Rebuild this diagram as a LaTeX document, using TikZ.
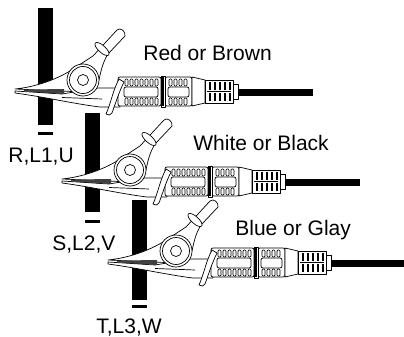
\documentclass[tikz,border=0pt]{standalone}
\usepackage{fontspec}
\setmainfont{Liberation Sans}
\begin{document}
\begin{tikzpicture}[x=1pt,y=-1pt,line width=0.7pt,line join=round,
    lbl/.style={font=\fontsize{21}{25}\selectfont,inner sep=0pt,anchor=base west}]
            \useasboundingbox (0,0) rectangle (404,337);
            \fill (38,8) rectangle (53,125);
            \fill (38,132) rectangle (53,135);
            \fill (85,113) rectangle (100,212);
            \fill (85,220) rectangle (100,223);
            \fill (132,200) rectangle (147,300);
            \fill (132,305) rectangle (147,308);
            \foreach \dx/\dy in {0/0,47/90,93/171} {
            \begin{scope}[shift={(\dx,\dy)}]
            \draw [fill = white] (15,91) -- (62,94) -- (98,88) -- (120,88) -- (120,107) -- (100,107) .. controls (75,104) and (45,97) .. (15,93) -- cycle;
            \draw (62,97.5) -- (102,99);
            \draw [fill = white] (15,89) .. controls (35,87) and (55,80) .. (70,71) -- (93,56) -- (117,30) .. controls (120,27) and (126,31) .. (125,36) -- (108,54) .. controls (103,62) and (101,70) .. (99,80) -- (85,92) -- (60,91) -- cycle;
            \fill [black!75] (24,89.6) -- (64,89) -- (64,94) -- (24,91.4) -- cycle;
            \draw [fill = white] (83,80) circle (16);
            \draw (83,80) circle (13.5);
            \draw (83,80) circle (5.5);
            \draw [fill = white, rotate around={-42:(102,49)}] (102,49) ellipse (9 and 3.5);
            \draw [fill = white, rounded corners=2] (118,77) rectangle (161,106);
            \draw [fill = white, rounded corners=2] (165,77) rectangle (192,106);
            \draw [fill = white] (161,76) rectangle (165,107);
            \draw [line width=1.5pt] (163,77) -- (163,106);
            \draw [rounded corners=2] (124,87) rectangle (158,97);
            \draw [rounded corners=2] (168,87) rectangle (189,97);
            \foreach \x in {125,130,...,155} {
                \draw [rounded corners=1] (\x,79) rectangle (\x+3,86);
                \draw [rounded corners=1] (\x,98) rectangle (\x+3,105);
            }
            \foreach \x in {169,174,...,186} {
                \draw [rounded corners=1] (\x,79) rectangle (\x+3,86);
                \draw [rounded corners=1] (\x,98) rectangle (\x+3,105);
            }
            \draw [fill = white] (192,77) -- (205,80) -- (205,103) -- (192,106) -- cycle;
            \draw [fill = white] (205,80) rectangle (233,103);
            \foreach \x in {209,214,...,229} {
                \fill (\x,82) rectangle (\x+2,90);
                \fill (\x,93) rectangle (\x+2,101);
            }
            \draw (207,91.5) -- (231,91.5);
            \draw [fill = white] (233,84) rectangle (238,99);
            \fill (238,88.5) rectangle (313,95.5);
            \draw [fill = white] (119,79) .. controls (113,90) and (111,103) .. (106,114) .. controls (108,116) and (111,115) .. (112,113) .. controls (116,102) and (119,92) .. (124,82) -- cycle;
            \end{scope}
            }
            \node [lbl] (red) at (143,60) {Red or Brown};
            \node [lbl] (white) at (193,150) {White or Black};
            \node [lbl] (blue) at (235,235) {Blue or Glay};
            \node [lbl] (ph1) at (8,162) {R,L1,U};
            \node [lbl] (ph2) at (52,250) {S,L2,V};
            \node [lbl] (ph3) at (96,333) {T,L3,W};
        \end{tikzpicture}
\end{document}
